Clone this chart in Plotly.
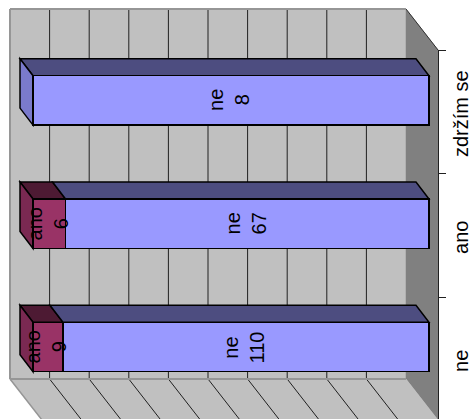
import numpy as np
import plotly.graph_objects as go

categories = ["ne", "ano", "zdržím se"]
ano_values = [9, 6, 0]
ne_values = [110, 67, 8]
series_names = ["ano", "ne"]
value_ticks = [10, 20, 30, 40, 50, 60, 70, 80, 90]

W, H = 471, 419
PX_X0, PX_PER_PCT = 33.0, 3.96      # front plane of value axis
PX_Y0, PX_PER_CAT = 347.0, 123.3    # centre of first bar
BAR_W = 0.401
DEPTH_X = -13 / PX_PER_PCT          # bar depth in axis units
DEPTH_Y = 17 / PX_PER_CAT
WALL_X = -23 / PX_PER_PCT           # back wall shift
WALL_TOP = (PX_Y0 - 9) / PX_PER_CAT
WALL_BOT = (PX_Y0 - 379) / PX_PER_CAT
FLOOR_X = 32 / PX_PER_PCT
FLOOR_Y = 41 / PX_PER_CAT

FRONT = {"ano": "#993366", "ne": "#9999FF"}
TOP = {"ano": "#4D1A33", "ne": "#4D4D80"}
SIDE = {"ano": "#7A2952", "ne": "#7A7ACC"}
FONT = "Liberation Sans, Arial, sans-serif"


def poly(points, fill, line="black", width=1.5, layer="below"):
    path = "M" + " L".join(f"{x:.4f},{y:.4f}" for x, y in points) + " Z"
    return dict(type="path", path=path, xref="x", yref="y", layer=layer,
                fillcolor=fill, line=dict(color=line, width=width))


def seg(p, q, color, width=1.0):
    return dict(type="line", x0=p[0], y0=p[1], x1=q[0], y1=q[1], xref="x", yref="y",
                layer="below", line=dict(color=color, width=width))


shapes = []
annotations = []
# walls and floor
wl, wr = WALL_X, WALL_X + 100
wall = [(wl, WALL_BOT), (wr, WALL_BOT), (wr, WALL_TOP), (wl, WALL_TOP)]
shapes.append(poly(wall, "#C0C0C0", "#C0C0C0", 0.5))
shapes.append(poly([(wr, WALL_TOP), (wr + FLOOR_X, WALL_TOP - FLOOR_Y),
                    (wr + FLOOR_X, WALL_BOT - FLOOR_Y), (wr, WALL_BOT)], "#808080", "#808080", 0.5))
shapes.append(seg((wr, WALL_TOP), (wr + FLOOR_X, WALL_TOP - FLOOR_Y), "#303030", 1))
shapes.append(poly([(wl, WALL_BOT), (wr, WALL_BOT), (wr + FLOOR_X, WALL_BOT - FLOOR_Y),
                    (wl + FLOOR_X, WALL_BOT - FLOOR_Y)], "#C0C0C0", "#C0C0C0", 0.5))
for t in value_ticks:
    x = WALL_X + t
    shapes.append(seg((x, WALL_BOT), (x, WALL_TOP), "#202020", 1))
    shapes.append(seg((x, WALL_BOT), (x + FLOOR_X, WALL_BOT - FLOOR_Y), "#202020", 1))
shapes.append(seg((wl, WALL_BOT), (wl + FLOOR_X, WALL_BOT - FLOOR_Y), "#969696", 1.5))
shapes.append(seg((wl, WALL_BOT), (wr, WALL_BOT), "#969696", 2))
shapes.append(seg((wl, WALL_TOP), (wr, WALL_TOP), "#969696", 2))
shapes.append(seg((wl, WALL_BOT), (wl, WALL_TOP), "#969696", 2))

# 3-D faces and labels of the bars, from the normalised stack
ano = np.array(ano_values, float)
ne = np.array(ne_values, float)
tot = ano + ne
for i in range(len(categories)):
    b0, b1 = i - BAR_W / 2, i + BAR_W / 2
    stops = [0.0]
    names = []
    raw = []
    for name, v in zip(series_names, (ano[i], ne[i])):
        if v > 0:
            stops.append(stops[-1] + 100 * v / tot[i])
            names.append(name)
            raw.append(int(v))
    for j, name in enumerate(names):
        a, c = stops[j], stops[j + 1]
        shapes.append(poly([(a, b1), (c, b1), (c + DEPTH_X, b1 + DEPTH_Y), (a + DEPTH_X, b1 + DEPTH_Y)], TOP[name]))
        annotations.append(dict(x=(a + c) / 2, y=i, xref="x", yref="y", text=f"{name}<br>{raw[j]}",
                                textangle=-90, showarrow=False, xanchor="center", yanchor="middle",
                                xshift=-1.5,
                                font=dict(family=FONT, size=20, color="black")))
    shapes.append(poly([(0, b0), (0, b1), (DEPTH_X, b1 + DEPTH_Y), (DEPTH_X, b0 + DEPTH_Y)], SIDE[names[0]]))

fig = go.Figure()
positions = list(range(len(categories)))
for name, vals in zip(series_names, (ano_values, ne_values)):
    fig.add_trace(go.Bar(
        x=vals, y=positions, orientation="h", name=name, width=BAR_W,
        marker=dict(color=FRONT[name], line=dict(color="black", width=1.5)),
        cliponaxis=False, hoverinfo="skip",
    ))
fig.add_trace(go.Scatter(x=[50] * 3, y=categories, yaxis="y2", mode="markers",
                         marker=dict(opacity=0), hoverinfo="skip", showlegend=False))

y2_top = 2.5
y2_dom = (H - 50) / H
fig.update_layout(
    width=W, height=H, margin=dict(l=0, r=0, t=0, b=0), autosize=False,
    paper_bgcolor="white", plot_bgcolor="rgba(0,0,0,0)", showlegend=False,
    barmode="stack", barnorm="percent", hovermode=False, shapes=shapes, annotations=annotations,
    xaxis=dict(visible=False, range=[-PX_X0 / PX_PER_PCT, (W - PX_X0) / PX_PER_PCT],
               domain=[0, 1], fixedrange=True),
    yaxis=dict(visible=False, range=[(PX_Y0 - H) / PX_PER_CAT, PX_Y0 / PX_PER_CAT],
               domain=[0, 1], fixedrange=True),
    yaxis2=dict(type="category", categoryorder="array", categoryarray=categories,
                range=[y2_top - (H - 50) / 123.5, y2_top], domain=[0, y2_dom],
                anchor="free", position=437.5 / W, side="right", tickson="boundaries",
                ticks="outside", ticklen=7, tickwidth=1, tickcolor="#202020",
                showline=True, linecolor="#202020", linewidth=1.2, showgrid=False,
                zeroline=False, tickangle=-90, fixedrange=True,
                ticklabelstandoff=5, ticklabelshift=5,
                tickfont=dict(family=FONT, size=20, color="black")),
)
fig.write_html("out.html", config=dict(displayModeBar=False),
               post_script="document.body.style.margin='0';document.documentElement.style.overflow='hidden';")
